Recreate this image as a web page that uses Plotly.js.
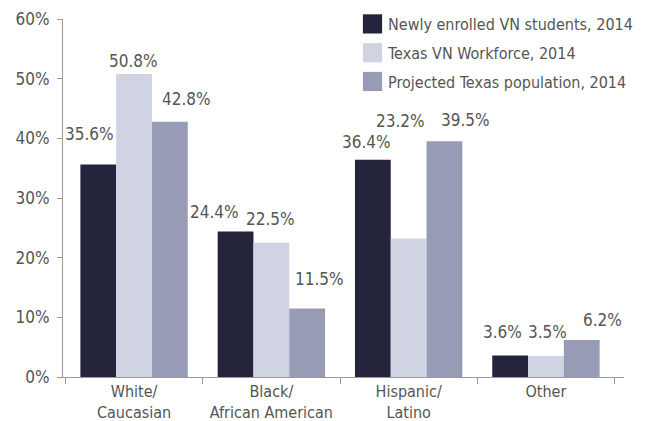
<!DOCTYPE html>
<html>
<head>
<meta charset="utf-8">
<script src="https://cdn.plot.ly/plotly-3.0.1.min.js"></script>
<style>html,body{margin:0;padding:0;background:#fff;}#chart{width:646px;height:421px;}</style>
</head>
<body>
<div id="chart"></div>
<script>
// ---- data ----
const categories = ["White/<br>Caucasian", "Black/<br>African American", "Hispanic/<br>Latino", "Other"];
const seriesNames = ["Newly enrolled VN students, 2014", "Texas VN Workforce, 2014", "Projected Texas population, 2014"];
const newlyEnrolled = [35.6, 24.4, 36.4, 3.6];
const vnWorkforce = [50.8, 22.5, 23.2, 3.5];
const txPopulation = [42.8, 11.5, 39.5, 6.2];
const yTickVals = [0, 10, 20, 30, 40, 50, 60];
const yTickText = ["0%", "10%", "20%", "30%", "40%", "50%", "60%"];

// ---- style ----
const colors = ["#24243c", "#d0d4e2", "#979bb6"];
const FONT = "'DejaVu Sans Condensed', 'DejaVu Sans', sans-serif";
const TXT = "#555555";
// label offsets (px) from each bar's top-centre to the label centre
const labelOffsets = [
  [[-8, -31], [-20, -19], [-6, -18], [-7, -24]],
  [[-1, -13], [-1, -24], [-8, -118], [2, -24]],
  [[16, -23], [12, -29], [20, -21], [20, -20]]
];
const M = {l: 63, r: 22, t: 19, b: 44, autoexpand: false};
const W = 646, H = 421, BARGAP = 0.218;

const series = [newlyEnrolled, vnWorkforce, txPopulation];
const traces = series.map((vals, i) => ({
  type: "bar",
  name: seriesNames[i],
  x: categories,
  y: vals,
  marker: {color: colors[i], line: {width: 0}},
  legendgroup: "g" + i,
  hoverinfo: "skip"
}));

const plotW = W - M.l - M.r;
const plotH = H - M.t - M.b;
const catW = plotW / categories.length;
const barW = catW * (1 - BARGAP) / series.length;

const annotations = [];
series.forEach((vals, i) => {
  vals.forEach((v, j) => {
    annotations.push({
      x: categories[j], y: v, xref: "x", yref: "y",
      text: v.toFixed(1) + "%",
      showarrow: false,
      xanchor: "center", yanchor: "middle",
      xshift: (i - (series.length - 1) / 2) * barW + labelOffsets[i][j][0],
      yshift: -labelOffsets[i][j][1],
      font: {family: FONT, size: 17, color: TXT}
    });
  });
});

const layout = {
  width: W, height: H,
  margin: M,
  paper_bgcolor: "#fff", plot_bgcolor: "#fff",
  barmode: "group",
  bargap: BARGAP, bargroupgap: 0,
  font: {family: FONT, size: 16, color: TXT},
  showlegend: true,
  legend: {
    x: (348 - M.l) / plotW, xanchor: "left",
    y: 1 + (M.t - 7) / plotH, yanchor: "top",
    traceorder: "grouped",
    tracegroupgap: 5,
    bgcolor: "rgba(0,0,0,0)",
    font: {family: FONT, size: 16, color: TXT}
  },
  xaxis: {
    type: "category",
    categoryorder: "array", categoryarray: categories,
    showline: true, linecolor: "#999", linewidth: 1,
    ticks: "outside", tickson: "boundaries", ticklen: 6, tickcolor: "#999",
    showgrid: false, zeroline: false, tickangle: 0,
    automargin: false,
    tickfont: {family: FONT, size: 16, color: TXT}
  },
  yaxis: {
    range: [0, 60],
    tickvals: yTickVals, ticktext: yTickText,
    showline: true, linecolor: "#999", linewidth: 1,
    ticks: "outside", ticklen: 5, tickcolor: "#999",
    showgrid: false, zeroline: false, automargin: false,
    ticklabelstandoff: 4,
    tickfont: {family: FONT, size: 17, color: TXT}
  },
  annotations: annotations
};

Plotly.newPlot("chart", traces, layout, {displayModeBar: false, staticPlot: true}).then(() => {
  document.querySelectorAll("#chart .legend .legendpoints path").forEach(p => {
    p.setAttribute("transform", "translate(24.5,0) scale(1.6)");
  });
});
</script>
</body>
</html>
